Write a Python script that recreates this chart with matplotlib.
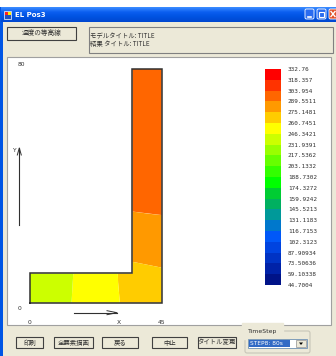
import matplotlib
matplotlib.use("Agg")
import matplotlib.pyplot as plt
import numpy as np
from matplotlib.patches import Rectangle, Polygon, FancyBboxPatch
from matplotlib.colors import ListedColormap, BoundaryNorm

plt.rcParams['font.family'] = ['Noto Sans CJK JP', 'DejaVu Sans']

# ---- contour levels (legend labels, top to bottom) ----
level_labels = [332.76, 318.357, 303.954, 289.5511, 275.1481, 260.7451,
                246.3421, 231.9391, 217.5362, 203.1332, 188.7302, 174.3272,
                159.9242, 145.5213, 131.1183, 116.7153, 102.3123, 87.90934,
                73.50636, 59.10338, 44.7004]
# band colours, lowest band first
band_colors = ['#001388', '#0022a8', '#0033c4', '#0044e0', '#0058f8',
               '#0078cc', '#009999', '#00b060', '#00cc33', '#00ff00',
               '#33ff00', '#66ff00', '#99ff00', '#ccff00', '#ffff00',
               '#ffcc00', '#ff9900', '#ff6600', '#ff3300', '#ff0000']

# ---- L-shaped model outline (model units) ----
outline_x = [0, 45, 45, 35, 35, 0, 0]
outline_y = [0, 0, 80, 80, 10, 10, 0]

# ---- temperature zones: representative value and zone boundary (model units) ----
zone_values = [296.0, 282.0, 268.0, 253.0, 239.0]
zone_x = [
    [35, 45, 45, 35],
    [35, 38, 41, 45, 45, 41, 38, 35],
    [30.0, 35, 35, 38, 41, 45, 45, 30.7, 30.4, 30.1],
    [14.8, 30.0, 30.1, 30.4, 30.7, 14.2, 14.4, 14.6],
    [0, 14.8, 14.6, 14.4, 14.2, 0],
]
zone_y = [
    [31.2, 30.0, 80, 80],
    [14.0, 13.4, 12.8, 12.0, 30.0, 30.4, 30.8, 31.2],
    [10, 10, 14.0, 13.4, 12.8, 12.0, 0, 0, 3.5, 7],
    [10, 10, 7, 3.5, 0, 0, 3.5, 7],
    [10, 10, 7, 3.5, 0, 0],
]

W, H = 336, 356
fig = plt.figure(figsize=(W / 100, H / 100), dpi=100)
fig.patch.set_facecolor('white')


def fr(x0, y0, x1, y1):
    return [x0 / W, 1 - y1 / H, (x1 - x0) / W, (y1 - y0) / H]


ui = fig.add_axes([0, 0, 1, 1])
ui.set_xlim(0, W)
ui.set_ylim(H, 0)
ui.axis('off')

BEIGE = '#ece9d8'
TXT = '#303030'
# window body and frame
ui.add_patch(Rectangle((0, 7), W, H - 7, facecolor='#0055e5', edgecolor='none'))
ui.add_patch(Rectangle((3, 22), W - 3, H - 22, facecolor=BEIGE, edgecolor='none'))
# title bar gradient
grad = np.linspace(0, 1, 30).reshape(-1, 1)
tb_cmap = matplotlib.colors.LinearSegmentedColormap.from_list(
    'tb', ['#3b8cff', '#0a5ef0', '#0052e0', '#0047d0'])
ui.imshow(grad, extent=(1, W, 22, 7), cmap=tb_cmap, aspect='auto', zorder=1)
ui.set_xlim(0, W)
ui.set_ylim(H, 0)
# window icon
ui.add_patch(Rectangle((4, 11), 7, 8, facecolor='#2050c0', edgecolor='#ffffff', lw=0.5, zorder=2))
ui.add_patch(Rectangle((5, 12), 3, 3, facecolor='#ff2020', edgecolor='none', zorder=3))
ui.add_patch(Rectangle((8, 12), 3, 3, facecolor='#ffee00', edgecolor='none', zorder=3))
ui.text(15, 15, 'EL Pos3', color='white', fontsize=5.0, fontweight='bold',
        va='center', ha='left', family=['DejaVu Sans'], zorder=3)
# caption buttons
for bx, col in [(305, '#2a6cf0'), (317, '#2a6cf0'), (329, '#e0512a')]:
    ui.add_patch(FancyBboxPatch((bx, 9), 9, 10, boxstyle='round,pad=0,rounding_size=1.5',
                                facecolor=col, edgecolor='white', lw=0.6, zorder=3))
ui.plot([307.5, 311], [16.5, 16.5], color='white', lw=1.2, zorder=4)
ui.add_patch(Rectangle((319, 11.5), 5, 5, facecolor='none', edgecolor='white', lw=0.8, zorder=4))
ui.plot([331, 335], [11.5, 16.5], color='white', lw=1.0, zorder=4)
ui.plot([331, 335], [16.5, 11.5], color='white', lw=1.0, zorder=4)

# top button
ui.add_patch(Rectangle((7, 27), 69, 13, facecolor=BEIGE, edgecolor='#404040', lw=0.8, zorder=2))
ui.text(41.5, 33.5, '温度の等高線', fontsize=4.8, ha='center', va='center', color=TXT, zorder=3)
# title box
ui.add_patch(Rectangle((89, 27), 244, 26, facecolor=BEIGE, edgecolor='#808080', lw=0.8, zorder=2))
ui.text(90.5, 36.5, 'モデルタイトル: TITLE', fontsize=4.6, ha='left', va='center', color=TXT, zorder=3)
ui.text(90.5, 43.5, '結果 タイトル: TITLE', fontsize=4.6, ha='left', va='center', color=TXT, zorder=3)

# drawing panel
ui.add_patch(Rectangle((7, 57), 324, 268, facecolor='white', edgecolor='#a0a0a0', lw=0.8, zorder=2))

# bottom buttons
for (x0, x1), lab in zip([(16, 43), (54, 93), (102, 138), (152, 187), (198, 236)],
                         ['印刷', '全要素描画', '戻る', '中止', 'タイトル変更']):
    ui.add_patch(Rectangle((x0, 337), x1 - x0, 11, facecolor=BEIGE, edgecolor='#404040', lw=0.8, zorder=2))
    ui.text((x0 + x1) / 2, 342.5, lab, fontsize=4.6, ha='center', va='center', color=TXT, zorder=3)

# TimeStep group box
ui.add_patch(FancyBboxPatch((245, 331), 65, 22, boxstyle='round,pad=0,rounding_size=2',
                            facecolor='none', edgecolor='#c8c6b8', lw=0.8, zorder=2))
ui.text(248, 331, 'TimeStep', fontsize=4.4, ha='left', va='center', color=TXT,
        backgroundcolor=BEIGE, family=['DejaVu Sans'], zorder=3)
ui.add_patch(Rectangle((248, 339), 59, 9, facecolor='white', edgecolor='#7f9db9', lw=0.7, zorder=3))
ui.add_patch(Rectangle((249, 340), 41, 7, facecolor='#316ac5', edgecolor='none', zorder=4))
ui.text(250, 343.5, 'STEP8: 80s', fontsize=4.2, ha='left', va='center', color='white',
        family=['DejaVu Sans'], zorder=5)
ui.add_patch(Rectangle((296, 340), 10, 7, facecolor=BEIGE, edgecolor='#909090', lw=0.5, zorder=4))
ui.add_patch(Polygon([(299, 342.5), (303, 342.5), (301, 345)], closed=True,
                     facecolor='black', edgecolor='none', zorder=5))

# axis annotations
for x, y, s, ha in [(18, 64, '80', 'left'), (18, 308, '0', 'left'), (30, 322, '0', 'center'),
                    (119, 322, 'X', 'center'), (162, 322, '45', 'center'), (13.5, 150, 'Y', 'center')]:
    ui.text(x, y, s, fontsize=4.3, ha=ha, va='center', color=TXT, family=['DejaVu Sans'], zorder=3)
# axis direction arrows
ui.plot([19.3, 19.3], [225, 148], color=TXT, lw=0.8, zorder=3)
ui.plot([17.3, 19.3, 21.3], [155, 148, 155], color=TXT, lw=0.7, zorder=3)
ui.plot([74, 117], [312.7, 312.7], color=TXT, lw=0.8, zorder=3)
ui.plot([107, 117, 107], [310.7, 312.7, 314.7], color=TXT, lw=0.7, zorder=3)

# ---- model contour plot ----
levels = sorted(level_labels)
cmap = ListedColormap(band_colors)
norm = BoundaryNorm(levels, cmap.N)

ax = fig.add_axes(fr(30, 69, 161.7, 302.7))
ax.set_xlim(0, 45)
ax.set_ylim(0, 80)
ax.axis('off')
for val, zx, zy in zip(zone_values, zone_x, zone_y):
    ax.fill(zx, zy, color=cmap(norm(val)), lw=0, clip_on=False, zorder=2)
ax.plot(outline_x, outline_y, color='#303030', lw=1.1, clip_on=False, zorder=3,
        solid_joinstyle='miter')

# ---- colour legend ----
cax = fig.add_axes(fr(265, 69, 281, 285))
cax.pcolormesh([0, 1], levels, np.array(levels[:-1]).reshape(-1, 1) + 1e-6,
               cmap=cmap, norm=norm, shading='flat')
cax.set_xlim(0, 1)
cax.set_ylim(levels[0], levels[-1])
cax.set_xticks([])
cax.yaxis.tick_right()
cax.set_yticks(levels)
cax.set_yticklabels([str(v) for v in levels], family=['DejaVu Sans Mono'], fontsize=4.3,
                    color=TXT)
cax.tick_params(axis='y', length=0, pad=5)
for s in cax.spines.values():
    s.set_visible(False)

fig.savefig('out.png', dpi=100)
